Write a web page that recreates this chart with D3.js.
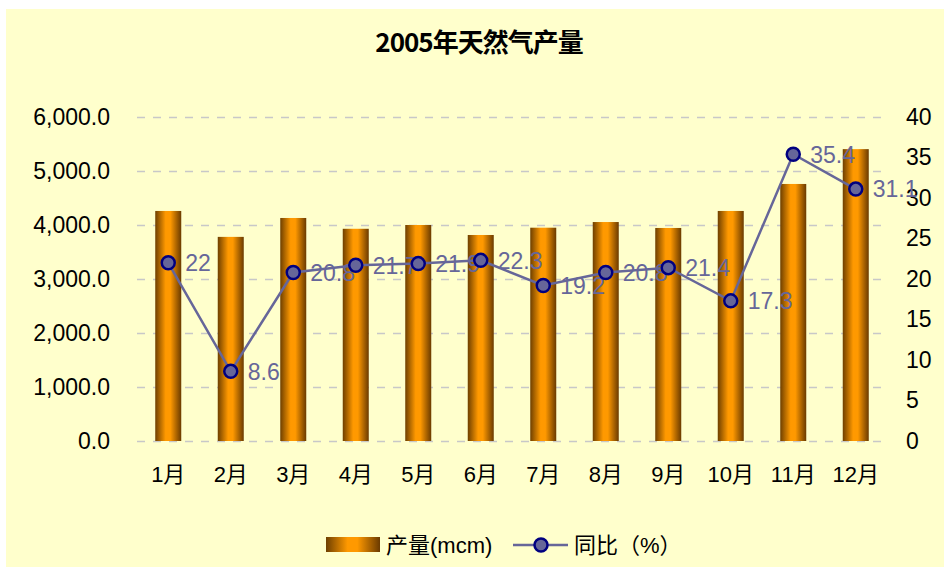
<!DOCTYPE html>
<html>
<head>
<meta charset="utf-8">
<script src="https://cdn.jsdelivr.net/npm/d3@7/dist/d3.min.js"></script>
<style>
  body { margin: 0; background: #fff; }
  svg text { font-family: "Liberation Sans", Arial, "Noto Sans CJK SC", sans-serif; }
</style>
</head>
<body>
<div id="chart"></div>
<script>
// chart data
const months = ["1月", "2月", "3月", "4月", "5月", "6月", "7月", "8月", "9月", "10月", "11月", "12月"];
const output = [4260, 3780, 4130, 3930, 4000, 3815, 3950, 4055, 3945, 4260, 4760, 5405];
const yoy = [22, 8.6, 20.8, 21.7, 21.9, 22.3, 19.2, 20.8, 21.4, 17.3, 35.4, 31.1];
const leftTicks = [0, 1000, 2000, 3000, 4000, 5000, 6000];
const rightTicks = [0, 5, 10, 15, 20, 25, 30, 35, 40];
const title = "2005年天然气产量";
const legendNames = ["产量(mcm)", "同比（%）"];

const W = 944, H = 567;
const plot = {left: 137, right: 887, top: 117, bottom: 441};

const svg = d3.select("#chart").append("svg")
    .attr("width", W)
    .attr("height", H);

// bar gradient (dark edges, orange middle)
const defs = svg.append("defs");
const grad = defs.append("linearGradient")
    .attr("id", "barGrad")
    .attr("x1", "0").attr("x2", "1").attr("y1", "0").attr("y2", "0");
grad.append("stop").attr("offset", "0%").attr("stop-color", "#6e3f00");
grad.append("stop").attr("offset", "40%").attr("stop-color", "#ff9900");
grad.append("stop").attr("offset", "58%").attr("stop-color", "#ff9900");
grad.append("stop").attr("offset", "100%").attr("stop-color", "#6a3a00");

// background
svg.append("rect")
    .attr("x", 6).attr("y", 9)
    .attr("width", W - 6).attr("height", H - 9)
    .attr("fill", "#ffffcc");

svg.append("text")
    .attr("x", 479).attr("y", 52)
    .attr("text-anchor", "middle")
    .style("font-size", "26px")
    .style("font-weight", "bold")
    .style("font-family", "'Noto Sans CJK SC', sans-serif")
    .style("letter-spacing", "-1px")
    .text(title);

const x = d3.scaleBand()
    .domain(months)
    .range([plot.left, plot.right])
    .paddingInner(0.584)
    .paddingOuter(0.292);

const yL = d3.scaleLinear().domain([0, 6000]).range([plot.bottom, plot.top]);
const yR = d3.scaleLinear().domain([0, 40]).range([plot.bottom, plot.top]);

// gridlines
svg.append("g")
    .attr("transform", "translate(" + plot.left + ",0)")
    .call(d3.axisLeft(yL).tickValues(leftTicks).tickSize(-(plot.right - plot.left - 5)).tickFormat(""))
    .call(g => g.select(".domain").remove())
    .call(g => g.selectAll("line")
        .attr("stroke", "#c8c8c8")
        .attr("stroke-width", 1.3)
        .attr("stroke-dasharray", "8,8"));

// left axis labels
svg.append("g")
    .attr("transform", "translate(110,0)")
    .call(d3.axisLeft(yL).tickValues(leftTicks).tickSize(0).tickPadding(0).tickFormat(d3.format(",.1f")))
    .call(g => g.select(".domain").remove())
    .call(g => g.selectAll("text").style("font-size", "23px").attr("fill", "#000"));

// right axis labels
svg.append("g")
    .attr("transform", "translate(906,0)")
    .call(d3.axisRight(yR).tickValues(rightTicks).tickSize(0).tickPadding(0))
    .call(g => g.select(".domain").remove())
    .call(g => g.selectAll("text").style("font-size", "23px").attr("fill", "#000"));

// category labels
svg.append("g")
    .attr("transform", "translate(0," + (plot.bottom + 25) + ")")
    .call(d3.axisBottom(x).tickSize(0).tickPadding(0))
    .call(g => g.select(".domain").remove())
    .call(g => g.selectAll("text").style("font-size", "22px").attr("fill", "#000"));

// bars
svg.append("g").selectAll("rect")
    .data(output)
    .enter()
    .append("rect")
    .attr("x", (d, i) => x(months[i]))
    .attr("y", d => yL(d))
    .attr("width", x.bandwidth())
    .attr("height", d => plot.bottom - yL(d))
    .attr("fill", "url(#barGrad)");

const cx = (i) => x(months[i]) + x.bandwidth() / 2;

// yoy line
const line = d3.line()
    .x((d, i) => cx(i))
    .y(d => yR(d));

svg.append("path")
    .datum(yoy)
    .attr("d", line)
    .attr("fill", "none")
    .attr("stroke", "#666699")
    .attr("stroke-width", 2.5);

// labels (drawn before markers so markers sit on top like the original)
svg.append("g").selectAll("text")
    .data(yoy)
    .enter()
    .append("text")
    .attr("x", (d, i) => cx(i) + 17)
    .attr("y", d => yR(d))
    .attr("dy", "0.36em")
    .style("font-size", "23px")
    .attr("fill", "#666699")
    .text(d => d);

svg.append("g").selectAll("circle")
    .data(yoy)
    .enter()
    .append("circle")
    .attr("cx", (d, i) => cx(i))
    .attr("cy", d => yR(d))
    .attr("r", 6.5)
    .attr("fill", "#666699")
    .attr("stroke", "#000080")
    .attr("stroke-width", 2.5);

// legend
const leg = svg.append("g");
leg.append("rect")
    .attr("x", 326).attr("y", 537)
    .attr("width", 54).attr("height", 15)
    .attr("fill", "url(#barGrad)");
leg.append("text")
    .attr("x", 386).attr("y", 545).attr("dy", "0.36em")
    .style("font-size", "22px")
    .text(legendNames[0]);
leg.append("line")
    .attr("x1", 513).attr("x2", 568)
    .attr("y1", 545).attr("y2", 545)
    .attr("stroke", "#666699").attr("stroke-width", 2.5);
leg.append("circle")
    .attr("cx", 541).attr("cy", 545).attr("r", 6.5)
    .attr("fill", "#666699").attr("stroke", "#000080").attr("stroke-width", 2.5);
leg.append("text")
    .attr("x", 574).attr("y", 545).attr("dy", "0.36em")
    .style("font-size", "22px")
    .text(legendNames[1]);
</script>
</body>
</html>
